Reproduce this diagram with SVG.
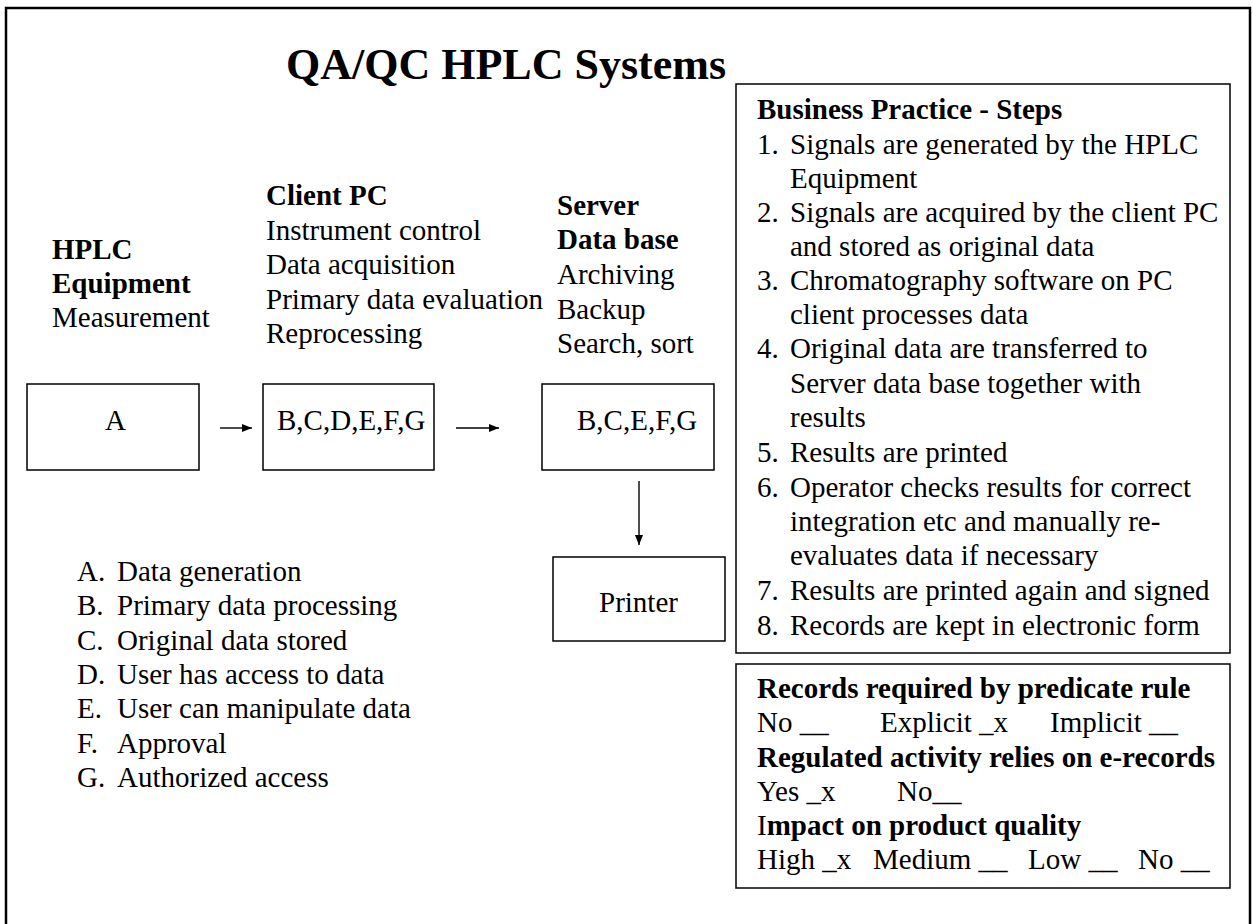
<svg xmlns="http://www.w3.org/2000/svg" width="1253" height="924" viewBox="0 0 1253 924">
  <defs>
    <style>
      text { font-family: "Liberation Serif", "Times New Roman", serif; font-size: 29px; fill: #000; }
      .b { font-weight: bold; }
      .n { font-weight: normal; }
      .title { font-size: 44px; font-weight: bold; }
      .box { fill: #fff; stroke: #000; stroke-width: 1.5; }
      .frame { fill: none; stroke: #000; stroke-width: 2.5; }
      .edge { fill: none; stroke: #000; stroke-width: 1.4; }
    </style>
    <marker id="arrow" markerWidth="10" markerHeight="8" refX="10" refY="4" orient="auto" markerUnits="userSpaceOnUse">
      <path d="M0,0 L10,4 L0,8 Z" fill="#000"/>
    </marker>
  </defs>

  <rect width="1253" height="924" fill="#fff"/>
  <!-- outer page frame (bottom edge runs past the canvas) -->
  <rect class="frame" x="6" y="8" width="1244" height="960"/>

  <text class="title" x="286" y="79">QA/QC HPLC Systems</text>

  <!-- column captions -->
  <g id="caption-hplc">
    <text class="b" x="52" y="259">HPLC</text>
    <text class="b" x="52" y="293">Equipment</text>
    <text x="52" y="327">Measurement</text>
  </g>
  <g id="caption-client">
    <text class="b" x="266" y="205">Client PC</text>
    <text x="266" y="240">Instrument control</text>
    <text x="266" y="274">Data acquisition</text>
    <text x="266" y="309">Primary data evaluation</text>
    <text x="266" y="343">Reprocessing</text>
  </g>
  <g id="caption-server">
    <text class="b" x="557" y="215">Server</text>
    <text class="b" x="557" y="249">Data base</text>
    <text x="557" y="284">Archiving</text>
    <text x="557" y="319">Backup</text>
    <text x="557" y="353">Search, sort</text>
  </g>

  <!-- flow nodes -->
  <g id="node-a">
    <rect class="box" x="27" y="384" width="172" height="86"/>
    <text x="105" y="430">A</text>
  </g>
  <g id="node-client">
    <rect class="box" x="263" y="384" width="171" height="86"/>
    <text x="277" y="430">B,C,D,E,F,G</text>
  </g>
  <g id="node-server">
    <rect class="box" x="542" y="384" width="172" height="86"/>
    <text x="577" y="430">B,C,E,F,G</text>
  </g>
  <g id="node-printer">
    <rect class="box" x="553" y="557" width="172" height="84"/>
    <text x="599" y="612">Printer</text>
  </g>

  <g id="connectors">
    <line class="edge" x1="220" y1="428" x2="252" y2="428" marker-end="url(#arrow)"/>
    <line class="edge" x1="456" y1="428" x2="499" y2="428" marker-end="url(#arrow)"/>
    <line class="edge" x1="639" y1="481" x2="639" y2="545" marker-end="url(#arrow)"/>
  </g>

  <!-- legend -->
  <g id="legend">
    <text x="77" y="581">A.</text><text x="117" y="581">Data generation</text>
    <text x="77" y="615">B.</text><text x="117" y="615">Primary data processing</text>
    <text x="77" y="650">C.</text><text x="117" y="650">Original data stored</text>
    <text x="77" y="684">D.</text><text x="117" y="684">User has access to data</text>
    <text x="77" y="718">E.</text><text x="117" y="718">User can manipulate data</text>
    <text x="77" y="753">F.</text><text x="117" y="753">Approval</text>
    <text x="77" y="787">G.</text><text x="117" y="787">Authorized access</text>
  </g>

  <!-- business practice panel -->
  <g id="steps">
    <rect class="box" x="736" y="84" width="494" height="569"/>
    <text class="b" x="757" y="119">Business Practice - Steps</text>
    <text x="757" y="154">1.</text><text x="790" y="154">Signals are generated by the HPLC</text>
    <text x="790" y="188">Equipment</text>
    <text x="757" y="222">2.</text><text x="790" y="222">Signals are acquired by the client PC</text>
    <text x="790" y="256">and stored as original data</text>
    <text x="757" y="290">3.</text><text x="790" y="290">Chromatography software on PC</text>
    <text x="790" y="324">client processes data</text>
    <text x="757" y="358">4.</text><text x="790" y="358">Original data are transferred to</text>
    <text x="790" y="393">Server data base together with</text>
    <text x="790" y="427">results</text>
    <text x="757" y="462">5.</text><text x="790" y="462">Results are printed</text>
    <text x="757" y="497">6.</text><text x="790" y="497">Operator checks results for correct</text>
    <text x="790" y="531">integration etc and manually re-</text>
    <text x="790" y="565">evaluates data if necessary</text>
    <text x="757" y="600">7.</text><text x="790" y="600">Results are printed again and signed</text>
    <text x="757" y="635">8.</text><text x="790" y="635">Records are kept in electronic form</text>
  </g>

  <!-- record classification panel -->
  <g id="classification">
    <rect class="box" x="736" y="664" width="494" height="224"/>
    <text class="b" x="757" y="698">Records required by predicate rule</text>
    <text y="732"><tspan x="757">No __</tspan><tspan x="880">Explicit _x</tspan><tspan x="1050">Implicit __</tspan></text>
    <text class="b" x="757" y="767">Regulated activity relies on e-records</text>
    <text y="801"><tspan x="757">Yes _x</tspan><tspan x="897">No__</tspan></text>
    <text class="b" x="757" y="835"><tspan class="n">I</tspan>mpact on product quality</text>
    <text y="869"><tspan x="757">High _x</tspan><tspan x="873">Medium __</tspan><tspan x="1028">Low __</tspan><tspan x="1138">No __</tspan></text>
  </g>
</svg>
